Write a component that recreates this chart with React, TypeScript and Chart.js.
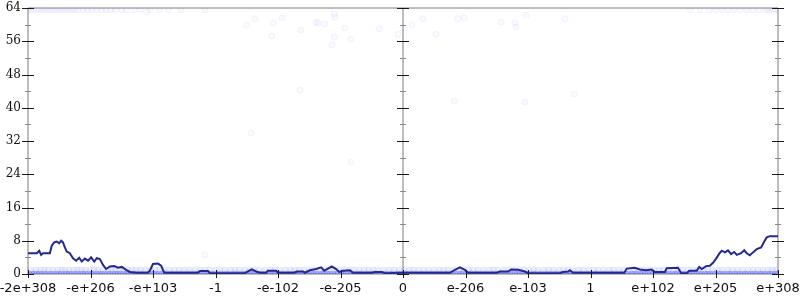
import { useEffect, useRef } from "react";
import { Chart, registerables } from "chart.js";

Chart.register(...registerables);

// x axis is an ordinal float scale: positions -6..6 labelled as below
const xTickLabels = ["-2e+308", "-e+206", "-e+103", "-1", "-e-102", "-e-205", "0", "e-206", "e-103", "1", "e+102", "e+205", "e+308"];

// running line (x in axis units, y = count)
const lineX = [
  -6.0, -5.86, -5.82, -5.79, -5.76, -5.65, -5.62, -5.58, -5.54, -5.5, -5.47, -5.44, -5.41, -5.38, -5.33, -5.28,
  -5.23, -5.18, -5.14, -5.09, -5.04, -4.99, -4.94, -4.9, -4.85, -4.8, -4.75, -4.69, -4.62, -4.56, -4.5, -4.43,
  -4.37, -4.27, -4.18, -4.08, -4.05, -4.0, -3.92, -3.87, -3.82, -3.65, -3.28, -3.25, -3.12, -3.09, -2.53, -2.46,
  -2.42, -2.35, -2.29, -2.19, -2.16, -2.03, -2.0, -1.74, -1.7, -1.6, -1.57, -1.49, -1.39, -1.31, -1.26, -1.2,
  -1.14, -1.07, -1.02, -0.96, -0.85, -0.8, -0.5, -0.45, -0.34, -0.29, 0.0, 0.11, 0.75, 0.83, 0.91, 0.99,
  1.04, 1.5, 1.55, 1.68, 1.73, 1.84, 1.95, 2.0, 2.51, 2.56, 2.64, 2.67, 2.72, 2.83, 3.54, 3.58,
  3.71, 3.79, 3.89, 3.98, 4.03, 4.19, 4.22, 4.4, 4.45, 4.54, 4.58, 4.7, 4.74, 4.78, 4.85, 4.91,
  4.96, 5.01, 5.06, 5.1, 5.15, 5.2, 5.25, 5.3, 5.34, 5.41, 5.46, 5.5, 5.55, 5.6, 5.66, 5.73,
  5.78, 5.82, 5.87, 6.0,
];
const lineY = [
  5.0, 5.0, 5.6, 4.6, 5.0, 5.0, 6.8, 7.6, 7.8, 7.4, 8.0, 7.6, 6.4, 5.4, 5.0, 3.8,
  3.2, 3.9, 3.0, 3.7, 3.2, 4.0, 3.0, 3.8, 3.6, 2.2, 1.2, 1.8, 1.9, 1.5, 1.7, 1.0,
  0.5, 0.3, 0.3, 0.3, 0.8, 2.4, 2.5, 2.0, 0.3, 0.3, 0.3, 0.7, 0.7, 0.2, 0.2, 0.8,
  1.1, 0.6, 0.3, 0.3, 0.8, 0.8, 0.3, 0.3, 0.6, 0.6, 0.3, 0.9, 1.2, 1.6, 0.8, 1.3,
  1.8, 1.2, 0.5, 0.8, 0.9, 0.3, 0.3, 0.5, 0.5, 0.2, 0.3, 0.3, 0.3, 1.0, 1.6, 1.0,
  0.3, 0.3, 0.6, 0.6, 1.1, 1.0, 0.6, 0.2, 0.2, 0.5, 0.6, 0.9, 0.3, 0.3, 0.3, 1.3,
  1.5, 1.1, 0.9, 1.1, 0.5, 0.5, 1.4, 1.5, 0.2, 0.2, 0.8, 0.8, 1.7, 1.2, 1.9, 2.0,
  2.7, 3.7, 4.9, 5.6, 5.2, 5.7, 4.8, 5.3, 4.6, 5.0, 5.7, 5.0, 4.5, 5.2, 6.0, 6.4,
  7.8, 8.8, 9.1, 9.1,
];

// faint individual samples
const topRowX = [
  -6.0, -5.95, -5.9, -5.85, -5.8, -5.75, -5.7, -5.65, -5.6, -5.55, -5.5, -5.45, -5.4, -5.35, -5.3, -5.25,
  -5.2, -5.12, -5.05, -4.98, -4.9, -4.82, -4.75, -4.68, -4.6, -4.5, -4.42, -4.3, -4.2, -4.05, -3.9, -3.75,
  -3.55, -3.17, 4.6, 4.75, 4.9, 5.0, 5.1, 5.2, 5.3, 5.4, 5.5, 5.6, 5.7, 5.8, 5.85, 5.9, 5.95, 6.0,
];
const topRowY = [
  63.6, 63.6, 63.6, 63.6, 63.6, 63.6, 63.6, 63.6, 63.6, 63.6, 63.6, 63.6, 63.6, 63.6, 63.6, 63.6,
  63.6, 63.6, 63.6, 63.6, 63.6, 63.6, 63.6, 63.6, 63.6, 63.6, 63.6, 63.6, 63.6, 63.6, 63.6, 63.6,
  63.6, 63.6, 63.6, 63.6, 63.6, 63.6, 63.6, 63.6, 63.6, 63.6, 63.6, 63.6, 63.6, 63.6, 63.6, 63.6, 63.6, 63.6,
];

const zeroRowX = [
  -5.98, -5.94, -5.9, -5.86, -5.82, -5.78, -5.73, -5.69, -5.64, -5.6, -5.55, -5.51, -5.47, -5.42, -5.38, -5.34,
  -5.3, -5.25, -5.21, -5.16, -5.12, -5.08, -5.04, -4.99, -4.95, -4.9, -4.86, -4.82, -4.78, -4.73, -4.69, -4.64,
  -4.6, -4.56, -4.52, -4.47, -4.43, -4.39, -4.34, -4.3, -4.26, -4.21, -4.17, -4.12, -4.08, -4.04, -3.99, -3.95,
  -3.91, -3.86, -3.82, -3.78, -3.73, -3.69, -3.65, -3.6, -3.56, -3.52, -3.47, -3.43, -3.39, -3.34, -3.3, -3.26,
  -3.21, -3.17, -3.12, -3.08, -3.04, -3.0, -2.95, -2.91, -2.86, -2.82, -2.78, -2.73, -2.69, -2.65, -2.6, -2.56,
  -2.52, -2.47, -2.43, -2.39, -2.34, -2.3, -2.26, -2.21, -2.17, -2.12, -2.08, -2.04, -1.99, -1.95, -1.91, -1.86,
  -1.82, -1.78, -1.73, -1.69, -1.65, -1.6, -1.56, -1.52, -1.47, -1.43, -1.39, -1.34, -1.3, -1.26, -1.21, -1.17,
  -1.12, -1.08, -1.04, -0.99, -0.95, -0.91, -0.86, -0.82, -0.78, -0.73, -0.69, -0.65, -0.6, -0.56, -0.52, -0.47,
  -0.43, -0.39, -0.34, -0.3, -0.26, -0.21, -0.17, -0.12, -0.08, -0.04, 0.01, 0.05, 0.09, 0.14, 0.18, 0.22,
  0.27, 0.31, 0.35, 0.4, 0.44, 0.48, 0.53, 0.57, 0.61, 0.66, 0.7, 0.74, 0.79, 0.83, 0.88, 0.92,
  0.96, 1.01, 1.05, 1.09, 1.14, 1.18, 1.22, 1.27, 1.31, 1.35, 1.4, 1.44, 1.48, 1.53, 1.57, 1.61,
  1.66, 1.7, 1.74, 1.79, 1.83, 1.87, 1.92, 1.96, 2.0, 2.05, 2.09, 2.13, 2.18, 2.22, 2.27, 2.31,
  2.35, 2.4, 2.44, 2.48, 2.53, 2.57, 2.61, 2.66, 2.7, 2.74, 2.79, 2.83, 2.87, 2.92, 2.96, 3.0,
  3.05, 3.09, 3.13, 3.18, 3.22, 3.26, 3.31, 3.35, 3.39, 3.44, 3.48, 3.52, 3.57, 3.61, 3.66, 3.7,
  3.74, 3.79, 3.83, 3.87, 3.92, 3.96, 4.0, 4.05, 4.09, 4.13, 4.18, 4.22, 4.26, 4.31, 4.35, 4.39,
  4.44, 4.48, 4.52, 4.57, 4.61, 4.65, 4.7, 4.74, 4.78, 4.83, 4.87, 4.91, 4.96, 5.0, 5.05, 5.09,
  5.13, 5.18, 5.22, 5.26, 5.31, 5.35, 5.39, 5.44, 5.48, 5.52, 5.57, 5.61, 5.65, 5.7, 5.74, 5.78,
  5.83, 5.87, 5.91, 5.96, 5.99,
];
const oneRowX = [
  -5.95, -5.87, -5.8, -5.74, -5.68, -5.6, -5.52, -5.46, -5.41, -5.34, -5.27, -5.21, -5.15, -5.08, -5.0, -4.94,
  -4.88, -4.8, -4.72, -4.66, -4.61, -4.54, -4.47, -4.4, -4.33, -4.27, -4.2, -4.12, -4.04, -3.97, -3.9, -3.82,
  -3.74, -3.66, -3.58, -3.5, -3.42, -3.33, -3.25, -3.17, -3.1, -3.01, -2.93, -2.85, -2.76, -2.69, -2.62, -2.53,
  -2.45, -2.38, -2.3, -2.21, -2.12, -2.05, -1.97, -1.88, -1.8, -1.73, -1.66, -1.58, -1.5, -1.41, -1.33, -1.25,
  -1.18, -1.1, -1.02, -0.94, -0.86, -0.78, -0.7, -0.62, -0.55, -0.47, -0.4, -0.31, -0.22, -0.14, -0.06, 0.02,
  0.1, 0.17, 0.25, 0.33, 0.41, 0.5, 0.58, 0.65, 0.72, 0.81, 0.9, 0.97, 1.05, 1.12, 1.2, 1.29,
  1.38, 1.45, 1.52, 1.61, 1.7, 1.78, 1.86, 1.94, 2.02, 2.09, 2.16, 2.25, 2.33, 2.41, 2.5, 2.57,
  2.64, 2.72, 2.81, 2.89, 2.97, 3.05, 3.12, 3.21, 3.3, 3.37, 3.45, 3.53, 3.62, 3.7, 3.77, 3.85,
  3.93, 4.02, 4.1, 4.17, 4.25, 4.33, 4.4, 4.48, 4.56, 4.64, 4.72, 4.8, 4.88, 4.95, 5.03, 5.11,
  5.2, 5.27, 5.35, 5.43, 5.52, 5.6, 5.68, 5.76, 5.84, 5.91, 5.97,
];

const scatterX = [
  -2.5, -2.37, -2.08, -1.94, -2.1, -1.63, -1.39, -1.36, -1.25, -1.1, -1.09, -0.93, -1.1, -0.83, -1.14, -0.38,
  -0.08, 0.14, 0.32, 0.53, 0.88, 0.98, 1.57, 1.79, 1.81, 1.97, 2.59, -1.65, 0.82, 1.95, 2.74, -2.43,
  -0.83, -3.17, -4.1,
];
const scatterY = [
  59.9, 61.4, 60.4, 61.6, 57.3, 58.7, 60.6, 60.4, 60.2, 62.6, 61.8, 59.2, 57.0, 56.5, 55.1, 59.0,
  57.7, 59.9, 61.4, 57.7, 61.4, 61.6, 60.6, 60.4, 59.4, 62.3, 61.4, 44.3, 41.6, 41.4, 43.3, 33.9,
  26.9, 4.6, 63.0,
];

const axesPlugin = {
  id: "customAxes",
  beforeDatasetsDraw(chart: any) {
    const { ctx, chartArea: a, scales } = chart;
    const x = scales.x;
    ctx.save();
    ctx.strokeStyle = "#bdbdbd";
    ctx.lineWidth = 2;
    ctx.beginPath();
    ctx.moveTo(a.left, a.top);
    ctx.lineTo(a.right, a.top);
    ctx.moveTo(a.left, a.bottom);
    ctx.lineTo(a.right, a.bottom);
    [x.min, 0, x.max].forEach((v: number) => {
      const px = Math.round(x.getPixelForValue(v));
      ctx.moveTo(px, a.top);
      ctx.lineTo(px, a.bottom);
    });
    ctx.stroke();
    ctx.restore();
  },
  afterDatasetsDraw(chart: any) {
    const { ctx, chartArea: a, scales } = chart;
    const x = scales.x;
    const y = scales.y;
    ctx.save();
    ctx.lineWidth = 1;
    [x.min, 0, x.max].forEach((v: number) => {
      const px = Math.round(x.getPixelForValue(v));
      y.ticks.forEach((t: any) => {
        const py = Math.round(y.getPixelForValue(t.value)) + 0.5;
        const major = t.value % 8 === 0;
        ctx.strokeStyle = major ? "#1a1a1a" : "#8a8a8a";
        ctx.beginPath();
        if (major) {
          ctx.moveTo(px - 6, py);
          ctx.lineTo(px + 6, py);
        } else {
          ctx.moveTo(px - 3, py);
          ctx.lineTo(px + 3, py);
        }
        ctx.stroke();
      });
    });
    ctx.strokeStyle = "#1a1a1a";
    x.ticks.forEach((t: any) => {
      const px = Math.round(x.getPixelForValue(t.value)) + 0.5;
      ctx.beginPath();
      ctx.moveTo(px, a.bottom - 4);
      ctx.lineTo(px, a.bottom + 4);
      ctx.stroke();
    });
    ctx.restore();
  },
};

export default function App() {
  const ref = useRef<HTMLCanvasElement>(null);

  useEffect(() => {
    if (!ref.current) return;
    const faint = {
      pointRadius: 3,
      pointBorderWidth: 1,
      backgroundColor: "rgba(110,110,255,0.03)",
      borderColor: "rgba(110,110,255,0.08)",
      showLine: false,
    };
    const chart = new Chart(ref.current, {
      type: "scatter",
      data: {
        datasets: [
          {
            ...faint,
            backgroundColor: "rgba(110,110,255,0.05)",
            borderColor: "rgba(110,110,255,0.06)",
            data: topRowX.map((v, i) => ({ x: v, y: topRowY[i] })),
            order: 3,
          },
          { ...faint, data: scatterX.map((v, i) => ({ x: v, y: scatterY[i] })), order: 3 },
          {
            ...faint,
            backgroundColor: "rgba(90,100,255,0.1)",
            borderColor: "rgba(90,100,255,0.07)",
            data: oneRowX.map((v) => ({ x: v, y: 1 })),
            order: 3,
          },
          {
            ...faint,
            backgroundColor: "rgba(50,70,255,0.22)",
            borderColor: "rgba(50,70,255,0.15)",
            data: zeroRowX.map((v) => ({ x: v, y: 0 })),
            order: 2,
          },
          {
            data: lineX.map((v, i) => ({ x: v, y: lineY[i] })),
            showLine: true,
            borderColor: "#24298f",
            backgroundColor: "#24298f",
            borderWidth: 2,
            pointRadius: 0,
            tension: 0,
            order: 1,
          },
        ],
      },
      options: {
        animation: false,
        responsive: false,
        maintainAspectRatio: false,
        layout: { autoPadding: false, padding: { top: 8, right: 22, left: 0, bottom: 0 } },
        plugins: { legend: { display: false }, tooltip: { enabled: false } },
        scales: {
          x: {
            type: "linear",
            min: -6,
            max: 6,
            grid: { display: false, drawTicks: false },
            border: { display: false },
            ticks: {
              stepSize: 1,
              autoSkip: false,
              maxRotation: 0,
              padding: 7,
              color: "#111",
              font: { family: "DejaVu Sans", size: 13 },
              callback: (v: any) => xTickLabels[Math.round(Number(v)) + 6],
            },
            afterFit: (s: any) => {
              s.height = 26;
              s.paddingLeft = 0;
              s.paddingRight = 0;
            },
          },
          y: {
            type: "linear",
            min: 0,
            max: 64,
            grid: { display: false, drawTicks: false },
            border: { display: false },
            ticks: {
              stepSize: 4,
              autoSkip: false,
              padding: 7,
              color: "#111",
              font: { family: "DejaVu Serif", size: 12 },
              callback: (v: any) => (Number(v) % 8 === 0 ? String(v) : ""),
            },
            afterFit: (s: any) => {
              s.width = 28;
              s.paddingTop = 0;
              s.paddingBottom = 0;
            },
          },
        },
      },
      plugins: [axesPlugin],
    });
    return () => chart.destroy();
  }, []);

  return (
    <div style={{ position: "fixed", left: 0, top: 0, width: 800, height: 300, background: "#fff" }}>
      <canvas ref={ref} width={800} height={300} />
    </div>
  );
}
